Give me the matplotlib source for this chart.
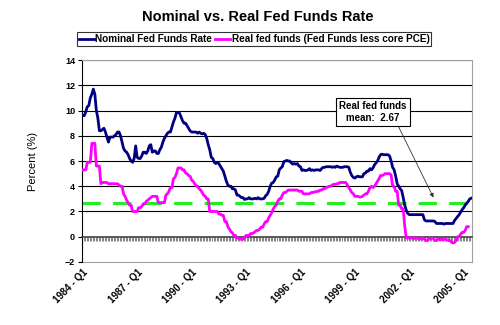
import numpy as np
import matplotlib
matplotlib.use("Agg")
import matplotlib.pyplot as plt

plt.rcParams['font.family'] = ['Liberation Sans', 'DejaVu Sans']

# monthly series, Jan 1984 .. Jun 2005
nominal = [
    9.6, 9.6, 9.9, 10.3, 10.4, 11.0, 11.3, 11.7, 11.3, 10.0, 9.4, 8.4,      # 1984
    8.4, 8.5, 8.6, 8.3, 7.9, 7.5, 7.9, 7.9, 7.9, 8.0, 8.1, 8.3,             # 1985
    8.3, 8.0, 7.5, 7.0, 6.8, 6.7, 6.5, 6.2, 6.0, 5.9, 6.2, 7.2,             # 1986
    6.3, 6.2, 6.2, 6.4, 6.7, 6.7, 6.6, 6.8, 7.2, 7.3, 6.7, 6.8,             # 1987
    6.8, 6.6, 6.6, 6.9, 7.1, 7.5, 7.8, 8.0, 8.2, 8.3, 8.3, 8.7,             # 1988
    9.1, 9.4, 9.85, 9.85, 9.8, 9.5, 9.2, 9.0, 9.0, 8.8, 8.6, 8.4,           # 1989
    8.3, 8.3, 8.3, 8.3, 8.2, 8.3, 8.2, 8.15, 8.2, 8.1, 7.8, 7.3,            # 1990
    6.9, 6.3, 6.2, 5.9, 5.8, 5.9, 5.8, 5.6, 5.4, 5.2, 4.8, 4.4,             # 1991
    4.1, 4.0, 4.0, 3.8, 3.8, 3.7, 3.3, 3.3, 3.2, 3.1, 3.1, 2.95,            # 1992
    3.0, 3.0, 3.1, 3.0, 3.0, 3.0, 3.05, 3.0, 3.1, 3.0, 3.0, 3.0,            # 1993
    3.05, 3.25, 3.35, 3.6, 4.0, 4.25, 4.3, 4.5, 4.75, 4.8, 5.3, 5.45,       # 1994
    5.55, 5.95, 6.0, 6.05, 6.0, 6.0, 5.85, 5.75, 5.8, 5.75, 5.8, 5.6,       # 1995
    5.55, 5.25, 5.3, 5.25, 5.25, 5.3, 5.4, 5.25, 5.3, 5.25, 5.3, 5.3,       # 1996
    5.3, 5.25, 5.4, 5.5, 5.5, 5.55, 5.55, 5.55, 5.55, 5.5, 5.55, 5.5,       # 1997
    5.6, 5.55, 5.5, 5.5, 5.5, 5.55, 5.55, 5.55, 5.5, 5.1, 4.85, 4.7,        # 1998
    4.65, 4.75, 4.8, 4.75, 4.75, 4.75, 5.0, 5.05, 5.2, 5.2, 5.4, 5.3,       # 1999
    5.45, 5.7, 5.85, 6.0, 6.3, 6.5, 6.55, 6.5, 6.5, 6.5, 6.5, 6.4,          # 2000
    6.0, 5.5, 5.3, 4.8, 4.2, 4.0, 3.8, 3.65, 3.1, 2.5, 2.1, 1.85,           # 2001
    1.75, 1.75, 1.75, 1.75, 1.75, 1.75, 1.75, 1.75, 1.75, 1.75, 1.35, 1.25, # 2002
    1.25, 1.25, 1.25, 1.25, 1.25, 1.2, 1.05, 1.05, 1.05, 1.05, 1.05, 1.0,   # 2003
    1.05, 1.05, 1.05, 1.05, 1.05, 1.05, 1.3, 1.45, 1.6, 1.75, 1.95, 2.15,   # 2004
    2.3, 2.5, 2.65, 2.8, 3.0, 3.05,                                         # 2005
]

real = [
    5.3, 5.3, 5.3, 5.9, 5.9, 5.9, 7.4, 7.4, 7.4, 5.6, 5.6, 5.6,
    4.2, 4.3, 4.3, 4.3, 4.3, 4.2, 4.2, 4.2, 4.2, 4.2, 4.2, 4.2,
    4.1, 4.0, 4.0, 3.4, 3.2, 2.9, 2.7, 2.5, 2.5, 2.0, 2.0, 2.0,
    2.0, 2.3, 2.3, 2.4, 2.6, 2.6, 2.8, 2.9, 3.0, 3.1, 3.2, 3.2,
    3.2, 3.2, 2.7, 2.7, 2.7, 2.7, 2.7, 3.3, 3.4, 3.6, 3.9, 3.9,
    4.6, 4.7, 5.0, 5.45, 5.45, 5.45, 5.3, 5.3, 5.05, 5.0, 4.85, 4.8,
    4.5, 4.4, 4.2, 4.0, 4.0, 3.8, 3.7, 3.5, 3.3, 3.2, 3.0, 3.0,
    2.0, 2.0, 2.0, 2.0, 2.0, 2.0, 1.8, 1.8, 1.7, 1.7, 1.2, 1.2,
    0.8, 0.6, 0.4, 0.3, 0.1, 0.1, -0.1, -0.1, -0.2, -0.2, -0.2, -0.1,
    0.1, 0.1, 0.1, 0.25, 0.25, 0.3, 0.4, 0.5, 0.5, 0.6, 0.75, 0.75,
    1.0, 1.2, 1.2, 1.5, 1.7, 1.9, 2.2, 2.4, 2.5, 2.8, 3.0, 3.0,
    3.3, 3.5, 3.5, 3.6, 3.7, 3.7, 3.7, 3.7, 3.7, 3.7, 3.7, 3.6,
    3.6, 3.6, 3.4, 3.4, 3.4, 3.4, 3.4, 3.5, 3.5, 3.55, 3.55, 3.6,
    3.6, 3.7, 3.7, 3.8, 3.8, 3.9, 3.95, 4.0, 4.0, 4.1, 4.15, 4.15,
    4.2, 4.2, 4.3, 4.3, 4.3, 4.3, 4.3, 4.1, 3.9, 3.7, 3.5, 3.4,
    3.2, 3.2, 3.2, 3.15, 3.15, 3.2, 3.3, 3.4, 3.4, 3.6, 3.9, 4.0,
    3.9, 4.0, 4.2, 4.4, 4.6, 4.85, 4.85, 4.9, 5.0, 5.0, 5.0, 5.0,
    4.9, 4.0, 4.0, 3.6, 3.6, 2.5, 2.5, 2.2, 2.2, 0.85, -0.1, -0.1,
    -0.1, -0.1, -0.1, -0.15, -0.1, -0.1, -0.15, -0.2, -0.1, -0.1, -0.2, -0.3,
    -0.3, -0.2, -0.15, -0.1, -0.15, -0.3, -0.3, -0.2, -0.2, -0.2, -0.25, -0.2,
    -0.2, -0.25, -0.3, -0.3, -0.45, -0.5, -0.45, -0.3, 0.0, 0.0, 0.2, 0.35,
    0.35, 0.5, 0.8, 0.8,
]

real_mean = 2.67
label_years = [1984, 1987, 1990, 1993, 1996, 1999, 2002, 2005]

n = len(nominal)
x = np.arange(n)
real_arr = np.full(n, np.nan)
real_arr[:len(real)] = real

fig = plt.figure(figsize=(5, 3.25), dpi=100)
ax = fig.add_axes([0.164, 0.194, 0.780, 0.621])

for y in range(2, 16, 2):
    ax.axhline(y, color='black', lw=0.8, zorder=1)

ax.plot(x, nominal, color='#000080', lw=2, zorder=3, label='Nominal Fed Funds Rate')
ax.plot(x, real_arr, color='#FF00FF', lw=2, zorder=3,
        label='Real fed funds (Fed Funds less core PCE)')
ax.axhline(real_mean, color='#22EE22', lw=2.2, dashes=(6, 4), zorder=2)

ax.set_xlim(-0.5, n - 0.5)
ax.set_ylim(-2, 14)
ax.set_yticks(range(-2, 15, 2))

# category axis crosses at zero with a tick between every month
ax.spines['bottom'].set_position(('data', 0))
ax.spines['bottom'].set_color('#404040')
ax.spines['bottom'].set_linewidth(1.2)
ax.set_xticks(np.arange(n + 1) - 0.5)
ax.tick_params(axis='x', direction='out', length=3, width=0.5, color='#555555',
               labelbottom=False)
for s in ('top', 'right'):
    ax.spines[s].set_color('#a0a0a0')
ax.spines['left'].set_color('black')
ax.tick_params(axis='y', length=3, width=0.8, labelsize=6.5, pad=2)
for t in ax.get_yticklabels():
    t.set_fontweight('bold')

# year labels along the bottom edge
sec = ax.secondary_xaxis(0.0)
sec.spines['bottom'].set_color('#a0a0a0')
pos = [(yr - 1984) * 12 for yr in label_years]
sec.set_xticks(pos)
sec.set_xticklabels([f'{yr} - Q1' for yr in label_years], rotation=45, ha='right',
                    va='top', rotation_mode='anchor', fontsize=7, fontweight='bold')
sec.tick_params(axis='x', length=0, pad=4)

ax.set_ylabel('Percent (%)', fontsize=8, labelpad=19)

ax.annotate('Real fed funds\nmean:  2.67', xy=(232, 3.1), xytext=(192, 9.9),
            fontsize=7, fontweight='bold', ha='center', va='center',
            bbox=dict(boxstyle='square,pad=0.3', fc='white', ec='black', lw=0.8),
            arrowprops=dict(arrowstyle='-|>', color='#333333', lw=0.6,
                            mutation_scale=6, shrinkA=0, shrinkB=0,
                            relpos=(0.85, 0.0)),
            zorder=5)

fig.text(0.516, 0.947, 'Nominal vs. Real Fed Funds Rate', ha='center', va='center',
         fontsize=10.5, fontweight='bold')
leg = fig.legend(loc='center', bbox_to_anchor=(0.508, 0.88), ncol=2,
                 prop={'size': 7.2, 'weight': 'bold'},
                 frameon=True, fancybox=False, edgecolor='black', handlelength=1.5,
                 handletextpad=0.15, columnspacing=0.3, borderpad=0.2,
                 borderaxespad=0)
leg.get_frame().set_linewidth(0.8)

fig.savefig('out.png', dpi=100)
